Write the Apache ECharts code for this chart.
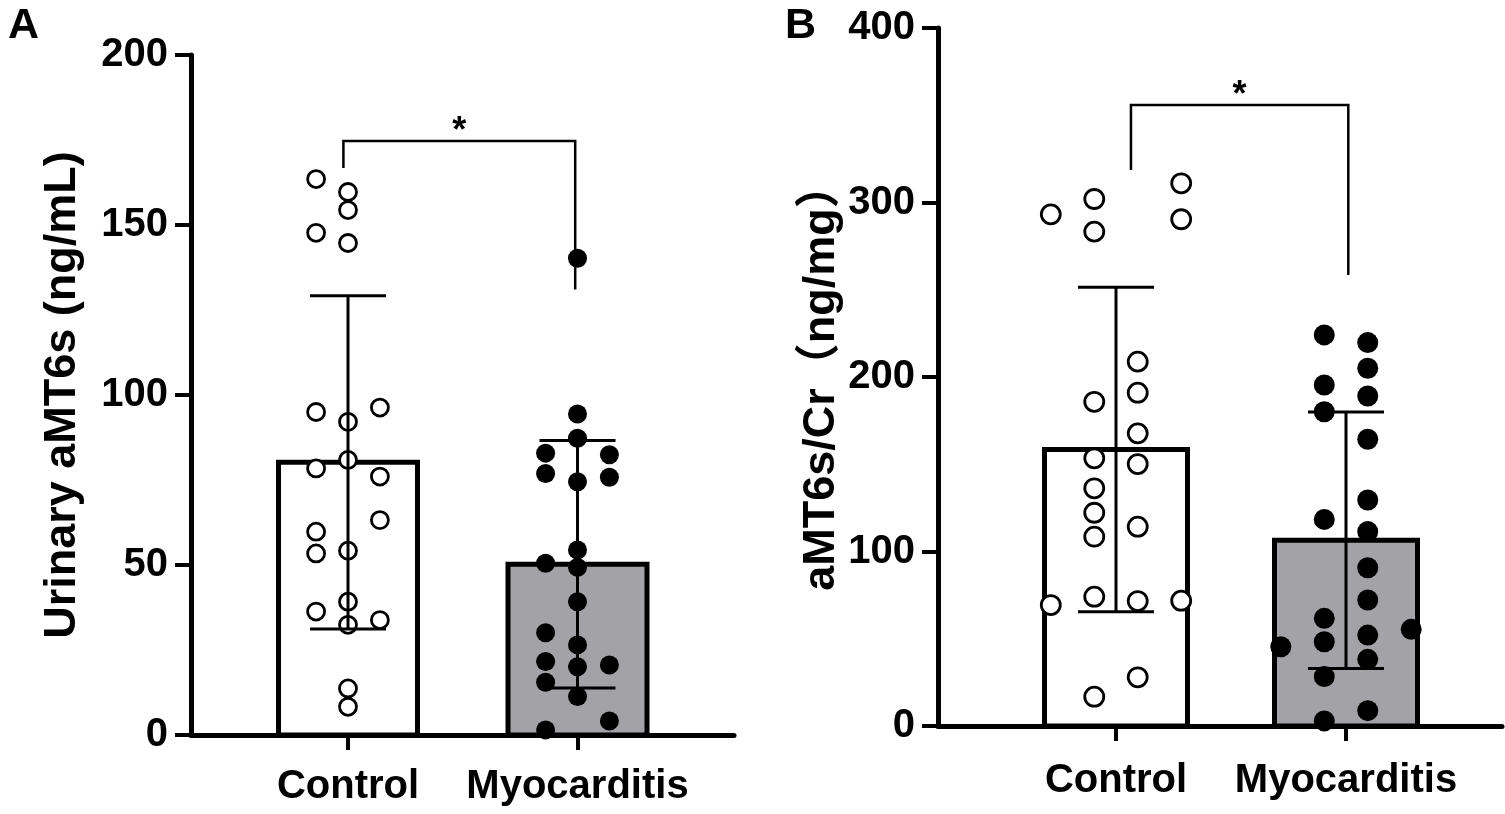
<!DOCTYPE html>
<html><head><meta charset="utf-8">
<script src="https://cdn.jsdelivr.net/npm/echarts@6/dist/echarts.min.js"></script>
<style>html,body{margin:0;padding:0;background:#fff}#c{width:1505px;height:814px}</style>
</head><body><div id="c"></div>
<script>
// ---------- data ----------
const categories = ['Control', 'Myocarditis'];
const panelLabels = ['A', 'B'];
const yTitleA = 'Urinary aMT6s (ng/mL)';
const yTitleB = 'aMT6s/Cr\uFF08ng/mg\uFF09';

// Panel A: individual values and their jitter column (-1,0,1)
const ctrlA    = [163.5, 159.7, 154.4, 147.7, 144.7, 95.0, 92.1, 96.3, 78.4, 80.9, 76.0, 63.2, 59.8, 53.4, 54.2, 39.2, 36.3, 32.4, 33.8, 13.7, 8.3];
const ctrlAcol = [-1, 0, 0, -1, 0, -1, 0, 1, -1, 0, 1, 1, -1, -1, 0, 0, -1, 0, 1, 0, 0];
const myoA     = [140.2, 94.4, 87.3, 82.9, 76.9, 82.4, 75.8, 74.5, 54.4, 50.5, 49.3, 39.2, 30.1, 26.5, 21.6, 20.1, 20.6, 15.5, 11.3, 4.1, 1.5];
const myoAcol  = [0, 0, 0, -1, -1, 1, 1, 0, 0, -1, 0, 0, -1, 0, -1, 0, 1, -1, 0, 1, -1];
const meanA = [80.2, 50.2];
const sdA   = [49.0, 36.4];
const bracketA = [166.8, 174.7, 131.0];   // left end, top, right end

// Panel B: individual values and their jitter column (-3,-1,1,3)
const ctrlB    = [293.2, 302.0, 283.3, 311.0, 290.4, 208.8, 185.8, 191.0, 167.7, 153.4, 150.1, 136.2, 122.2, 108.5, 114.2, 69.3, 74.1, 71.6, 71.8, 27.9, 16.8];
const ctrlBcol = [-3, -1, -1, 3, 3, 1, -1, 1, 1, -1, 1, -1, -1, -1, 1, -3, -1, 1, 3, 1, -1];
const myoB     = [224.1, 219.7, 205.0, 195.4, 189.1, 180.1, 164.3, 129.5, 118.4, 111.4, 90.7, 72.2, 61.7, 48.3, 45.4, 55.4, 52.1, 38.2, 28.3, 8.8, 2.9];
const myoBcol  = [-1, 1, 1, -1, 1, -1, 1, 1, -1, 1, 1, 1, -1, -1, -3, 3, 1, 1, -1, 1, -1];
const meanB = [158.5, 106.5];
const sdB   = [93.0, 73.5];
const bracketB = [318.6, 355.9, 258.5];

const sigLabel = '*';

// ---------- styling ----------
const FONT = "'Liberation Sans', Arial, 'Noto Sans CJK SC', sans-serif";
const GRAY = '#a3a2a7';
const stepA = 0.139, stepB = 0.0945;

function pts(vals, cols, group, step) {
  return vals.map((v, i) => [group + cols[i] * step, v]);
}

function barRender(widthPx, fills) {
  return function (params, api) {
    const x = api.value(0), v = api.value(1);
    const p0 = api.coord([x, 0]), p1 = api.coord([x, v]);
    return {
      type: 'rect',
      shape: { x: p0[0] - widthPx / 2, y: p1[1], width: widthPx, height: p0[1] - p1[1] },
      style: { fill: fills[params.dataIndex], stroke: '#000', lineWidth: 5 }
    };
  };
}

function errRender(params, api) {
  const x = api.value(0), m = api.value(1), s = api.value(2);
  const top = api.coord([x, m + s]), bot = api.coord([x, m - s]);
  const hw = 38;
  const st = { stroke: '#000', lineWidth: 3 };
  return {
    type: 'group', children: [
      { type: 'line', shape: { x1: top[0], y1: top[1], x2: bot[0], y2: bot[1] }, style: st },
      { type: 'line', shape: { x1: top[0] - hw, y1: top[1], x2: top[0] + hw, y2: top[1] }, style: st },
      { type: 'line', shape: { x1: bot[0] - hw, y1: bot[1], x2: bot[0] + hw, y2: bot[1] }, style: st }
    ]
  };
}

function bracketRender(params, api) {
  const x1 = api.value(0), x2 = api.value(1);
  const l = api.value(2), t = api.value(3), r = api.value(4);
  const a = api.coord([x1, l]), b = api.coord([x1, t]), c = api.coord([x2, t]), d = api.coord([x2, r]);
  return {
    type: 'group', children: [
      { type: 'polyline', shape: { points: [a, b, c, d] }, style: { stroke: '#000', lineWidth: 2.5, fill: null } },
      { type: 'text', x: (b[0] + c[0]) / 2, y: b[1] + 9,
        style: { text: sigLabel, font: "bold 36px " + FONT, fill: '#000', align: 'center', verticalAlign: 'bottom' } }
    ]
  };
}

function xAxisCfg(gi, min, max, margin) {
  return {
    type: 'value', gridIndex: gi, min: min, max: max,
    axisLine: { show: true, lineStyle: { color: '#000', width: 5 } },
    axisTick: { show: true, customValues: [1, 2], length: 15, lineStyle: { color: '#000', width: 4 } },
    axisLabel: { show: true, customValues: [1, 2], margin: margin,
      formatter: v => categories[Math.round(v) - 1] || '',
      color: '#000', fontSize: 40, fontWeight: 'bold', fontFamily: FONT },
    splitLine: { show: false }
  };
}
function yAxisCfg(gi, max, interval, name, gap) {
  return {
    type: 'value', gridIndex: gi, min: 0, max: max, interval: interval,
    name: name, nameLocation: 'middle', nameGap: gap, nameRotate: 90,
    nameTextStyle: { color: '#000', fontSize: 45, fontWeight: 'bold', fontFamily: FONT },
    axisLine: { show: true, lineStyle: { color: '#000', width: 5 } },
    axisTick: { show: true, length: 16, lineStyle: { color: '#000', width: 4 } },
    axisLabel: { margin: 23, color: '#000', fontSize: 40, fontWeight: 'bold', fontFamily: FONT },
    splitLine: { show: false }
  };
}

const openSym = { color: '#fff', borderColor: '#000', borderWidth: 2.8, opacity: 1 };
const fillSym = { color: '#000', opacity: 1 };

const option = {
  animation: false,
  backgroundColor: '#fff',
  title: [
    { text: panelLabels[0], left: 3, top: 0, textStyle: { fontSize: 43, fontWeight: 'bold', fontFamily: FONT, color: '#000' } },
    { text: panelLabels[1], left: 780, top: 0, textStyle: { fontSize: 43, fontWeight: 'bold', fontFamily: FONT, color: '#000' } }
  ],
  grid: [
    { left: 191, right: 771, top: 55, bottom: 79 },
    { left: 938, right: 3, top: 28, bottom: 88 }
  ],
  xAxis: [xAxisCfg(0, 1 - 157 / 229.5, 1 + 386 / 229.5, 32), xAxisCfg(1, 1 - 178 / 230, 1 + 386 / 230, 35)],
  yAxis: [yAxisCfg(0, 200, 50, yTitleA, 106), yAxisCfg(1, 400, 100, yTitleB, 83)],
  series: [
    { type: 'custom', xAxisIndex: 0, yAxisIndex: 0, z: 1, renderItem: barRender(139, ['#fff', GRAY]),
      data: meanA.map((m, i) => [i + 1, m]) },
    { type: 'custom', xAxisIndex: 1, yAxisIndex: 1, z: 1, renderItem: barRender(143, ['#fff', GRAY]),
      data: meanB.map((m, i) => [i + 1, m]) },
    { type: 'scatter', xAxisIndex: 0, yAxisIndex: 0, z: 3, symbol: 'circle', symbolSize: 17, itemStyle: openSym,
      data: pts(ctrlA, ctrlAcol, 1, stepA) },
    { type: 'scatter', xAxisIndex: 0, yAxisIndex: 0, z: 3, symbol: 'circle', symbolSize: 19, itemStyle: fillSym,
      data: pts(myoA, myoAcol, 2, stepA) },
    { type: 'scatter', xAxisIndex: 1, yAxisIndex: 1, z: 3, symbol: 'circle', symbolSize: 19, itemStyle: openSym,
      data: pts(ctrlB, ctrlBcol, 1, stepB) },
    { type: 'scatter', xAxisIndex: 1, yAxisIndex: 1, z: 3, symbol: 'circle', symbolSize: 21, itemStyle: fillSym,
      data: pts(myoB, myoBcol, 2, stepB) },
    { type: 'custom', xAxisIndex: 0, yAxisIndex: 0, z: 4, renderItem: errRender,
      data: meanA.map((m, i) => [i + 1, m, sdA[i]]) },
    { type: 'custom', xAxisIndex: 1, yAxisIndex: 1, z: 4, renderItem: errRender,
      data: meanB.map((m, i) => [i + 1, m, sdB[i]]) },
    { type: 'custom', xAxisIndex: 0, yAxisIndex: 0, z: 4, renderItem: bracketRender, clip: false,
      data: [[0.98, 1.99, bracketA[0], bracketA[1], bracketA[2]]] },
    { type: 'custom', xAxisIndex: 1, yAxisIndex: 1, z: 4, renderItem: bracketRender, clip: false,
      data: [[1.065, 2.01, bracketB[0], bracketB[1], bracketB[2]]] }
  ]
};
const chart = echarts.init(document.getElementById('c'), null, { renderer: 'canvas' });
chart.setOption(option);
</script></body></html>
